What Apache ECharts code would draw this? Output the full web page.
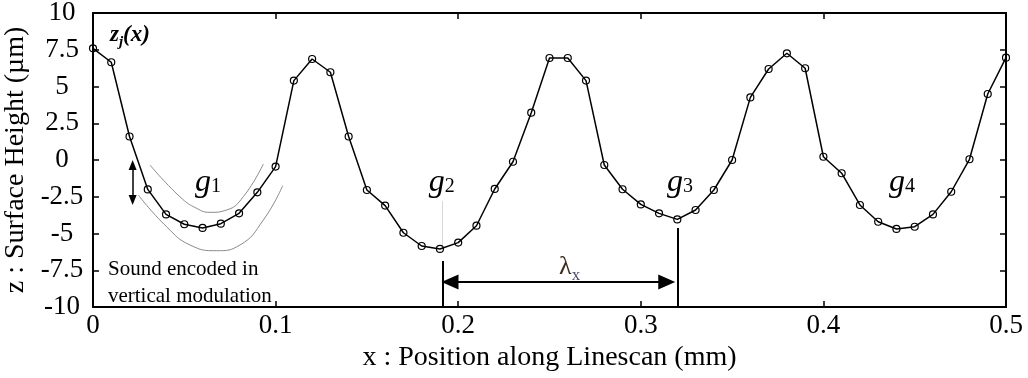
<!DOCTYPE html>
<html>
<head>
<meta charset="utf-8">
<script src="https://cdn.jsdelivr.net/npm/echarts@6/dist/echarts.min.js"></script>
<style>
  html, body { margin: 0; padding: 0; background: #fff; }
  #chart { width: 1028px; height: 378px; }
</style>
</head>
<body>
<div id="chart"></div>
<script>
  // linescan samples, every 0.01 mm
  const xPos = [0, 0.01, 0.02, 0.03, 0.04, 0.05, 0.06, 0.07, 0.08, 0.09,
                0.10, 0.11, 0.12, 0.13, 0.14, 0.15, 0.16, 0.17, 0.18, 0.19,
                0.20, 0.21, 0.22, 0.23, 0.24, 0.25, 0.26, 0.27, 0.28, 0.29,
                0.30, 0.31, 0.32, 0.33, 0.34, 0.35, 0.36, 0.37, 0.38, 0.39,
                0.40, 0.41, 0.42, 0.43, 0.44, 0.45, 0.46, 0.47, 0.48, 0.49, 0.50]
  const height = [7.6, 6.65, 1.6, -2.0, -3.7, -4.37, -4.62, -4.33, -3.63, -2.2,
                  -0.45, 5.4, 6.87, 5.97, 1.6, -2.04, -3.1, -4.95, -5.85, -6.05,
                  -5.62, -4.47, -1.97, -0.12, 3.22, 6.94, 6.94, 5.4, -0.34, -1.99,
                  -3.02, -3.63, -4.04, -3.4, -2.04, 0.0, 4.26, 6.19, 7.26, 6.24,
                  0.22, -0.9, -3.06, -4.2, -4.69, -4.54, -3.7, -2.16, 0.05, 4.49, 6.96]

  // thin guide curves around g1
  const upperGuideX = [0.0312, 0.0476, 0.0568, 0.0641, 0.0732, 0.0823, 0.0933]
  const upperGuideY = [-0.34, -2.5, -3.29, -3.56, -3.4, -2.5, -0.27]
  const lowerGuideX = [0.0248, 0.0403, 0.0531, 0.0677, 0.0805, 0.0933, 0.1039]
  const lowerGuideY = [-2.38, -4.54, -5.78, -6.17, -5.78, -4.08, -1.75]

  const serif = '"Liberation Serif", "Times New Roman", Times, serif'
  const chartInstance = echarts.init(document.getElementById('chart'))

  const pairs = (xs, ys) => xs.map((x, i) => [x, ys[i]])

  const frameAxis = {
    axisLine: { show: true, onZero: false, lineStyle: { color: '#000', width: 2 } },
    axisTick: { show: true, inside: true, length: 6, lineStyle: { color: '#000', width: 1.5 } },
    splitLine: { show: false }
  }

  const option = {
    backgroundColor: '#fff',
    animation: false,
    grid: { left: 93, right: 22, top: 13, bottom: 71, containLabel: false, outerBoundsMode: 'none' },
    xAxis: [
      {
        type: 'value', min: 0, max: 0.5, interval: 0.1, position: 'bottom',
        ...frameAxis,
        axisLabel: {
          color: '#000', fontFamily: serif, fontSize: 27, margin: 5,
          showMinLabel: true, showMaxLabel: true,
          formatter: v => String(parseFloat(v.toFixed(1)))
        },
        name: 'x : Position along Linescan (mm)',
        nameLocation: 'middle', nameGap: 34,
        nameTextStyle: { color: '#000', fontFamily: serif, fontSize: 28 }
      },
      {
        type: 'value', min: 0, max: 0.5, interval: 0.1, position: 'top',
        ...frameAxis,
        axisLabel: { show: false }
      }
    ],
    yAxis: [
      {
        type: 'value', min: -10, max: 10, interval: 2.5, position: 'left',
        ...frameAxis,
        axisLabel: {
          color: '#000', fontFamily: serif, fontSize: 27, margin: 31, align: 'center',
          showMinLabel: true, showMaxLabel: true
        },
        name: 'z : Surface Height (µm)',
        nameLocation: 'middle', nameRotate: 90, nameGap: 55,
        nameTextStyle: { color: '#000', fontFamily: serif, fontSize: 28 }
      },
      {
        type: 'value', min: -10, max: 10, interval: 2.5, position: 'right',
        ...frameAxis,
        axisLabel: { show: false }
      }
    ],
    series: [
      {
        name: 'upper guide', type: 'line', smooth: true, showSymbol: false, silent: true,
        data: pairs(upperGuideX, upperGuideY),
        lineStyle: { color: '#8a8a8a', width: 1 }
      },
      {
        name: 'lower guide', type: 'line', smooth: true, showSymbol: false, silent: true,
        data: pairs(lowerGuideX, lowerGuideY),
        lineStyle: { color: '#8a8a8a', width: 1 },
        // faint leader under g2
        markLine: {
          silent: true, symbol: ['none', 'none'], label: { show: false },
          lineStyle: { color: '#d8d8d8', width: 1, type: 'solid' },
          data: [[{ coord: [0.1915, -2.8] }, { coord: [0.1915, -5.9] }]]
        }
      },
      {
        name: 'z', type: 'line',
        data: pairs(xPos, height),
        symbol: 'circle', symbolSize: 7,
        itemStyle: { color: 'rgba(255,255,255,0)', borderColor: '#000', borderWidth: 1.2 },
        lineStyle: { color: '#000', width: 1.5 },
        z: 5,
        markLine: {
          silent: true, symbol: ['none', 'none'], label: { show: false },
          lineStyle: { color: '#000', width: 2, type: 'solid' },
          data: [
            [{ coord: [0.1915, -6.87] }, { coord: [0.1915, -10] }],
            [{ coord: [0.3202, -4.63] }, { coord: [0.3202, -10] }]
          ]
        }
      },
      {
        name: 'lambda arrow', type: 'line', data: [], silent: true,
        markLine: {
          silent: true, symbol: ['triangle', 'triangle'], symbolSize: [15, 17],
          label: { show: false },
          lineStyle: { color: '#000', width: 2, type: 'solid' },
          itemStyle: { color: '#000' },
          data: [[{ coord: [0.1955, -8.3] }, { coord: [0.3142, -8.3] }]]
        }
      },
      {
        name: 'modulation arrow', type: 'line', data: [], silent: true,
        markLine: {
          silent: true, symbol: ['triangle', 'triangle'], symbolSize: [8, 10],
          label: { show: false },
          lineStyle: { color: '#000', width: 1.5, type: 'solid' },
          itemStyle: { color: '#000' },
          data: [[{ coord: [0.0217, -0.34] }, { coord: [0.0217, -2.72] }]]
        }
      }
    ]
  }
  chartInstance.setOption(option)

  // text annotations placed through the grid's coordinate system
  function at(x, y) {
    return chartInstance.convertToPixel({ gridIndex: 0 }, [x, y])
  }
  function gLabel(n, x, y) {
    const p = at(x, y)
    return {
      type: 'text', x: p[0], y: p[1], silent: true,
      style: {
        text: '{g|g}{n|' + n + '}',
        align: 'center', verticalAlign: 'middle',
        textAlign: 'center', textVerticalAlign: 'middle',
        rich: {
          g: { fontFamily: serif, fontStyle: 'italic', fontSize: 32, fill: '#000', verticalAlign: 'bottom' },
          n: { fontFamily: serif, fontSize: 20, fill: '#000', verticalAlign: 'bottom', padding: [0, 0, 2, 0] }
        }
      }
    }
  }
  const zLab = at(0.0093, 8.5)
  const lam = at(0.261, -7.28)
  const sound = at(0.0082, -6.55)

  chartInstance.setOption({
    graphic: [
      {
        type: 'text', x: zLab[0], y: zLab[1], silent: true,
        style: {
          text: '{z|z}{j|j}{p|(x)}',
          align: 'left', verticalAlign: 'middle',
          textAlign: 'left', textVerticalAlign: 'middle',
          rich: {
            z: { fontFamily: serif, fontStyle: 'italic', fontWeight: 'bold', fontSize: 23, fill: '#000', verticalAlign: 'bottom' },
            j: { fontFamily: serif, fontStyle: 'italic', fontWeight: 'bold', fontSize: 15, fill: '#000', verticalAlign: 'bottom', padding: [0, 0, -3, 0] },
            p: { fontFamily: serif, fontStyle: 'italic', fontWeight: 'bold', fontSize: 23, fill: '#000', verticalAlign: 'bottom' }
          }
        }
      },
      gLabel(1, 0.063, -1.56),
      gLabel(2, 0.191, -1.56),
      gLabel(3, 0.3215, -1.56),
      gLabel(4, 0.443, -1.56),
      {
        type: 'text', x: lam[0], y: lam[1], silent: true,
        style: {
          text: '{l|λ}{x|x}',
          align: 'center', verticalAlign: 'middle',
          textAlign: 'center', textVerticalAlign: 'middle',
          rich: {
            l: { fontFamily: serif, fontSize: 26, fill: '#3b2a1e', verticalAlign: 'bottom' },
            x: { fontFamily: serif, fontSize: 17, fill: '#4a4a6a', verticalAlign: 'bottom', padding: [0, 0, -4, 0] }
          }
        }
      },
      {
        type: 'text', x: sound[0], y: sound[1], silent: true,
        style: {
          text: 'Sound encoded in\nvertical modulation',
          font: '21px "Liberation Serif", "Times New Roman", serif', fill: '#000',
          lineHeight: 27,
          align: 'left', verticalAlign: 'top',
          textAlign: 'left', textVerticalAlign: 'top'
        }
      }
    ]
  })
</script>
</body>
</html>
